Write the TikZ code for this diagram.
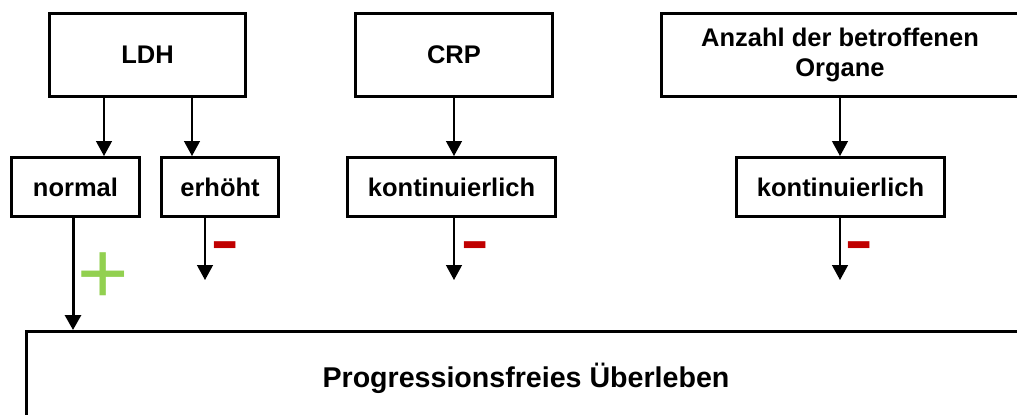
\documentclass[tikz,border=0pt]{standalone}
\usepackage{fontspec}
\setmainfont{Liberation Sans}
\usetikzlibrary{arrows.meta}

\definecolor{plusgreen}{HTML}{92D050}
\definecolor{minusred}{HTML}{C00000}

\tikzset{
  box/.style={draw, line width=1.5pt, fill=white, align=center, inner sep=0pt,
    font=\bfseries\fontsize{12.75}{15}\selectfont},
  topbox/.style={box, minimum height=41.5pt},
  subbox/.style={box, minimum height=29.5pt},
  link/.style={-{Triangle[length=7.5pt,width=8pt]}, line width=0.65pt},
  sign/.style={inner sep=0pt, anchor=base, font=\fontsize{44}{44}\selectfont},
}

\begin{document}
\begin{tikzpicture}[x=0.5pt, y=-0.5pt]
    \clip (0,0) rectangle (1017,414);

    % Parameter boxes (top row)
    \node[topbox, minimum width=98pt] (ldh) at (147.5,55) {LDH};
    \node[topbox, minimum width=98.5pt] (crp) at (454,55) {CRP};
    \node[topbox, minimum width=178.5pt] (anzahl) at (840,55) {Anzahl der betroffenen\\Organe};

    % Value boxes (second row)
    \node[subbox, minimum width=64pt] (normal) at (75.5,187) {normal};
    \node[subbox, minimum width=58.5pt] (erhoeht) at (220,187) {erhöht};
    \node[subbox, minimum width=104pt] (crpk) at (451.5,187) {kontinuierlich};
    \node[subbox, minimum width=104pt] (anzk) at (840.5,187) {kontinuierlich};

    % Outcome box (runs off the page)
    \node[box, minimum width=499.5pt, minimum height=46.5pt,
      font=\bfseries\fontsize{14.3}{16}\selectfont] (pfs) at (526,378) {Progressionsfreies\ Überleben};

    % Top row to value boxes
    \draw[link] ([xshift=-21.75pt]ldh.south) -- ([xshift=-21.75pt]ldh.south |- normal.north);
    \draw[link] ([xshift=22.25pt]ldh.south) -- ([xshift=22.25pt]ldh.south |- erhoeht.north);
    \draw[link] (crp.south) -- (crp.south |- crpk.north);
    \draw[link] (anzahl.south) -- (anzahl.south |- anzk.north);

    % Effects on the outcome
    \coordinate (erhoeht-out) at (205,280);
    \coordinate (crpk-out) at (454,280);
    \coordinate (anzk-out) at (840,280);
    \draw[link, line width=1.5pt] ([xshift=-1.25pt]normal.south) -- ([xshift=-1.25pt]normal.south |- pfs.north);
    \draw[link] (erhoeht.south -| erhoeht-out) -- (erhoeht-out);
    \draw[link] (crpk.south -| crpk-out) -- (crpk-out);
    \draw[link] (anzk.south -| anzk-out) -- (anzk-out);

    % Signs
    \node[sign, text=plusgreen] (plus) at (103.5,303) {+};
    \node[sign, text=minusred] (minus1) at (225,268.4) {-};
    \node[sign, text=minusred] (minus2) at (475,268.4) {-};
    \node[sign, text=minusred] (minus3) at (859.5,268.4) {-};
\end{tikzpicture}
\end{document}
